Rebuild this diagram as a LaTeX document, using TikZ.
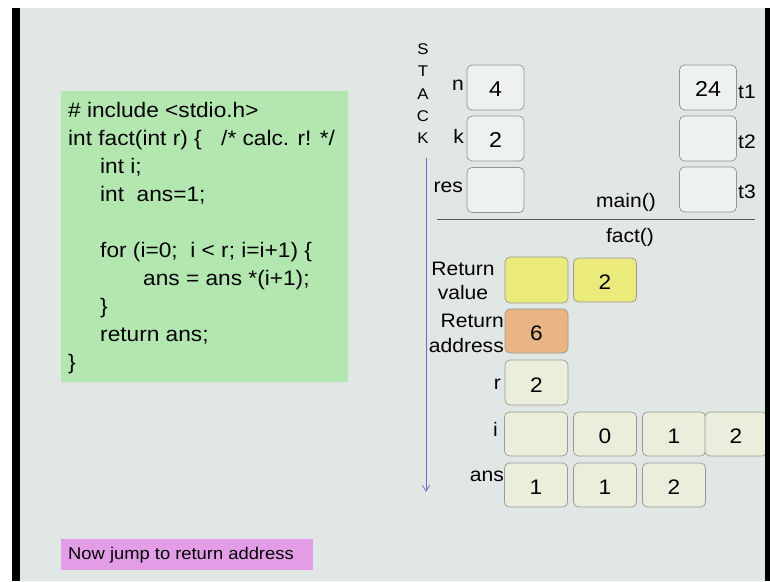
\documentclass[tikz,border=0pt]{standalone}
\usepackage{fontspec}
\setmainfont{Liberation Sans}[FakeStretch=1.08]
\usetikzlibrary{arrows.meta}
\definecolor{pagebg}{HTML}{E1E7E5}
\definecolor{codegreen}{HTML}{B2E8B0}
\definecolor{notepink}{HTML}{E39DE6}
\definecolor{rvyellow}{HTML}{EBEB7C}
\definecolor{raorange}{HTML}{E8B482}
\definecolor{cellfill}{HTML}{ECEEDC}
\definecolor{stackblue}{HTML}{6C6CC4}
\begin{document}
\begin{tikzpicture}[x=1pt,y=-1pt]
\tikzset{
  codeline/.style={anchor=base west, inner sep=0pt, font=\fontsize{21}{21}\selectfont},
  lbl/.style={inner sep=0pt, font=\fontsize{19.5}{19.5}\selectfont},
  stackletter/.style={inner sep=0pt, font=\fontsize{15.5}{15.5}\selectfont},
  mainbox/.style={draw=gray!85, rounded corners=5pt, line width=0.7pt, fill=pagebg!60!white,
    minimum width=57pt, minimum height=45pt, inner sep=0pt, text height=18pt, text depth=0pt,
    font=\fontsize{21.5}{21.5}\selectfont},
  cell/.style={draw=gray!80, rounded corners=5pt, line width=0.7pt, fill=cellfill,
    minimum width=63pt, minimum height=44pt, inner sep=0pt, text height=19pt, text depth=0pt,
    font=\fontsize{21}{21}\selectfont},
  funclabel/.style={inner sep=0pt, font=\fontsize{19.5}{19.5}\selectfont}
}
% background
\useasboundingbox (0,0) rectangle (770,581);
\fill[white] (0,0) rectangle (770,581);
\fill[pagebg] (20,8) rectangle (765,581);

% code box
\node[fill=codegreen, minimum width=287pt, minimum height=291pt, anchor=north west, inner sep=0pt] (codebox) at (61,91) {};
\node[codeline] (c1) at (68,117) {\# include <stdio.h>};
\node[codeline] (c2) at (68,145) {int fact(int r) \{};
\node[codeline] (c2b) at (221,145) {/* calc. r! */};
\node[codeline] (c3) at (100,173) {int i;};
\node[codeline] (c4) at (100,201) {int~~ans=1;};
\node[codeline] (c5) at (100,257) {for (i=0;~~i < r; i=i+1) \{};
\node[codeline] (c6) at (143,285) {ans = ans *(i+1);};
\node[codeline] (c7) at (100,313) {\}};
\node[codeline] (c8) at (100,341) {return ans;};
\node[codeline] (c9) at (68,369) {\}};

% note
\node[fill=notepink, minimum width=252pt, minimum height=31pt, anchor=north west, inner sep=0pt] (notebox) at (61,539) {};
\node[anchor=west, inner sep=0pt, font=\fontsize{17}{17}\selectfont] (note) at (68,555) {Now jump to return address};

% STACK
\node[stackletter] (sS) at (423,49) {S};
\node[stackletter] (sT) at (423,71) {T};
\node[stackletter] (sA) at (423,94) {A};
\node[stackletter] (sC) at (423,116) {C};
\node[stackletter] (sK) at (423,138) {K};
\coordinate (stacktop) at (426,158);
\coordinate (stackbot) at (426,492);
\draw[stackblue, line width=0.7pt, -{Straight Barb[length=6pt,width=7pt]}] (stacktop) -- (stackbot);

% main() frame
\node[mainbox] (n) at (495.5,87.5) {4};
\node[mainbox] (k) at (495.5,138.5) {2};
\node[mainbox] (res) at (495.5,190) {};
\node[lbl, anchor=east] (nl) at (464,85) {n};
\node[lbl, anchor=east] (kl) at (464,136) {k};
\node[lbl, anchor=east] (resl) at (463,187) {res};
\node[mainbox] (t1) at (708,87.5) {24};
\node[mainbox] (t2) at (708,138.5) {};
\node[mainbox] (t3) at (708,189.5) {};
\node[lbl, anchor=west] (t1l) at (738,92) {t1};
\node[lbl, anchor=west] (t2l) at (738,142) {t2};
\node[lbl, anchor=west] (t3l) at (738,192) {t3};
\node[funclabel] (mainl) at (626,202) {main()};
\coordinate (sepL) at (437,219);
\coordinate (sepR) at (755,219);
\draw[gray!70!black, line width=0.8pt] (sepL) -- (sepR);
\node[funclabel] (factl) at (630,237) {fact()};

% fact() frame
\node[cell, fill=rvyellow, minimum height=46pt] (rv1) at (536.5,280) {};
\node[cell, fill=rvyellow] (rv2) at (605,280) {2};
\node[lbl, align=center, font=\fontsize{19.5}{24}\selectfont] (rvl) at (463,281) {Return\\value};
\node[cell, fill=raorange] (ra) at (536.5,331) {6};
\node[lbl, align=right, anchor=east, font=\fontsize{19.5}{25}\selectfont] (ral) at (504,333) {Return\\address};
\node[cell, minimum height=45pt] (r) at (536.5,382.5) {2};
\node[lbl, anchor=east] (rl) at (501,384) {r};
\node[cell] (i0) at (536,434) {};
\node[cell] (i1) at (605,434) {0};
\node[cell] (i2) at (674,434) {1};
\node[cell, minimum width=62pt] (i3) at (736,434) {2};
\node[lbl, anchor=east] (il) at (498,429) {i};
\node[cell] (a0) at (536,485) {1};
\node[cell] (a1) at (605,485) {1};
\node[cell] (a2) at (674,485) {2};
\node[lbl, anchor=east] (al) at (504,476) {ans};

% frame bars
\fill[black] (12,8) rectangle (20,581);
\fill[black] (765,8) rectangle (770,581);
\end{tikzpicture}
\end{document}
